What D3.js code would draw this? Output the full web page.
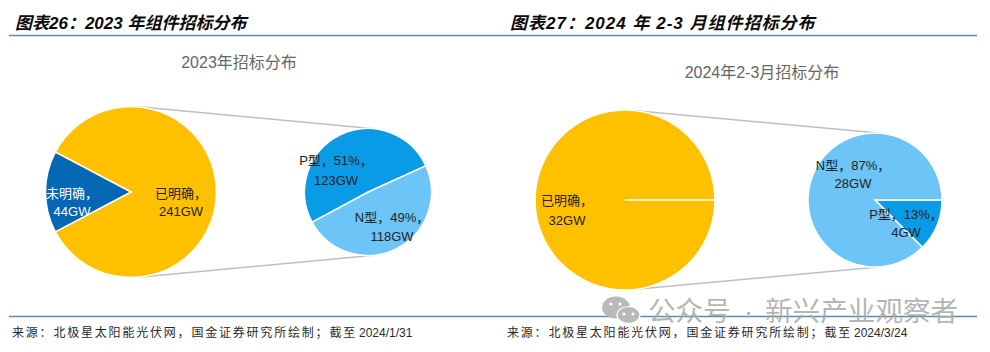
<!DOCTYPE html>
<html>
<head>
<meta charset="utf-8">
<script src="https://cdn.jsdelivr.net/npm/d3@7"></script>
<style>
    html, body { margin: 0; padding: 0; background: #fff; }
    svg { display: block; }
    text { font-family: "Liberation Sans", "Noto Sans CJK SC", sans-serif; }
    .fig-title { font-size: 17px; font-weight: 700; font-style: italic; fill: #0a0a0a; }
    .chart-title { font-size: 16px; fill: #666; }
    .source { font-size: 12px; fill: #2a2a2a; letter-spacing: 1.8px; }
    .source-date { font-size: 12px; fill: #2a2a2a; }
    .label { font-size: 13px; text-anchor: middle; }
</style>
</head>
<body>
<div id="chart"></div>
<script>
// Left chart, 2023
const mainCats2023 = ["已明确", "未明确"];
const mainVals2023 = [241, 44];
const subCats2023 = ["N型", "P型"];
const subVals2023 = [118, 123];
const subPct2023 = ["49%", "51%"];

// Right chart, 2024 Feb-Mar (the empty slice gives the white seam in the pie)
const mainCats2024 = ["已明确", "未明确"];
const mainVals2024 = [32, 0];
const subCats2024 = ["P型", "N型"];
const subVals2024 = [4, 28];
const subPct2024 = ["13%", "87%"];

const figTitles = ["图表26：2023 年组件招标分布", "图表27：2024 年 2-3 月组件招标分布"];
const chartTitles = ["2023年招标分布", "2024年2-3月招标分布"];
const sourceText = "来源：北极星太阳能光伏网，国金证券研究所绘制；截至";
const sourceDates = ["2024/1/31", "2024/3/24"];

const width = 990, height = 352;
const yellow = "#ffc000", darkBlue = "#0367b4", midBlue = "#0a9be6", lightBlue = "#6cc5f6";

const svg = d3.select("#chart").append("svg")
    .attr("width", width)
    .attr("height", height);

//Header and footer rules
[35.5, 316.5].forEach(y => {
    svg.append("line")
        .attr("x1", 9).attr("x2", 977)
        .attr("y1", y).attr("y2", y)
        .style("stroke", "#5f8ea3")
        .style("stroke-width", 1.4);
});

[15, 510].forEach((x, i) => {
    svg.append("text").attr("class", "fig-title")
        .attr("x", x).attr("y", 29)
        .style("letter-spacing", i === 1 ? "1px" : "0px")
        .text(figTitles[i]);
});

[[239, 68], [762, 78]].forEach((p, i) => {
    svg.append("text").attr("class", "chart-title")
        .attr("x", p[0]).attr("y", p[1])
        .attr("text-anchor", "middle")
        .text(chartTitles[i]);
});

[12, 507].forEach((x, i) => {
    const t = svg.append("text").attr("x", x).attr("y", 337);
    t.append("tspan").attr("class", "source").text(sourceText);
    t.append("tspan").attr("class", "source-date").attr("dx", 2).text(sourceDates[i]);
});

//Draws one pie from its values, colors by index
function drawPie(g, cx, cy, r, values, colors, startDeg) {
    const start = startDeg * Math.PI / 180;
    const pie = d3.pie().sort(null).startAngle(start).endAngle(start + 2 * Math.PI);
    const arc = d3.arc().innerRadius(0).outerRadius(r);
    g.append("g")
        .attr("transform", `translate(${cx},${cy})`)
        .selectAll("path")
        .data(pie(values))
        .join("path")
        .attr("d", arc)
        .style("fill", (d, i) => colors[i])
        .style("stroke", "#fff")
        .style("stroke-width", 1.5);
}

//Gray lines are the outer tangents between the two circles
function drawConnectors(g, a, b) {
    const sin = (a.r - b.r) / (b.x - a.x);
    const cos = Math.sqrt(1 - sin * sin);
    [-1, 1].forEach(side => {
        g.append("line")
            .attr("x1", a.x + a.r * sin)
            .attr("y1", a.y + side * a.r * cos)
            .attr("x2", b.x + b.r * sin)
            .attr("y2", b.y + side * b.r * cos)
            .style("stroke", "#bfbfbf")
            .style("stroke-width", 1.5);
    });
}

function drawLabel(g, x, y, line1, line2, color, dy) {
    const t = g.append("text").attr("class", "label").style("fill", color);
    t.append("tspan").attr("x", x).attr("y", y).text(line1);
    t.append("tspan").attr("x", x).attr("y", y + dy).text(line2);
}

// 2023 chart
const left = svg.append("g");
const leftMain = { x: 131, y: 192, r: 85.5 };
const leftSub = { x: 368, y: 192, r: 63.5 };
drawConnectors(left, leftMain, leftSub);
drawPie(left, leftMain.x, leftMain.y, leftMain.r, mainVals2023, [yellow, darkBlue], -62.2);
drawPie(left, leftSub.x, leftSub.y, leftSub.r, subVals2023, [lightBlue, midBlue], 65.5);

drawLabel(left, 181, 198, `${mainCats2023[0]}，`, `${mainVals2023[0]}GW`, "#222", 18);
drawLabel(left, 72, 198, `${mainCats2023[1]}，`, `${mainVals2023[1]}GW`, "#fff", 18);
drawLabel(left, 336, 165, `${subCats2023[1]}，${subPct2023[1]}，`, `${subVals2023[1]}GW`, "#222", 20);
drawLabel(left, 392, 222, `${subCats2023[0]}，${subPct2023[0]}，`, `${subVals2023[0]}GW`, "#222", 19);

// 2024 chart
const right = svg.append("g");
const rightMain = { x: 625, y: 200, r: 90 };
const rightSub = { x: 875, y: 200, r: 67 };
drawConnectors(right, rightMain, rightSub);
drawPie(right, rightMain.x, rightMain.y, rightMain.r, mainVals2024, [yellow, yellow], 90);
drawPie(right, rightSub.x, rightSub.y, rightSub.r, subVals2024, [midBlue, lightBlue], 90);

drawLabel(right, 567, 205, `${mainCats2024[0]}，`, `${mainVals2024[0]}GW`, "#222", 20);
drawLabel(right, 853, 170, `${subCats2024[1]}，${subPct2024[1]}，`, `${subVals2024[1]}GW`, "#222", 18);
drawLabel(right, 906, 219, `${subCats2024[0]}，${subPct2024[0]}，`, `${subVals2024[0]}GW`, "#222", 18);

//Watermark
const mark = svg.append("g");
mark.append("ellipse").attr("cx", 616).attr("cy", 307.5).attr("rx", 14).attr("ry", 11).style("fill", "#b9b9b9");
mark.append("ellipse").attr("cx", 628.5).attr("cy", 315).attr("rx", 11.5).attr("ry", 8.5).style("fill", "#b9b9b9").style("stroke", "#fff").style("stroke-width", 1.2);
[[611, 304], [620, 304], [624, 314], [633, 314]].forEach(p => {
    mark.append("circle").attr("cx", p[0]).attr("cy", p[1]).attr("r", 1.6).style("fill", "#fff");
});
const markText = mark.append("text")
    .attr("y", 321)
    .style("font-size", "27.6px")
    .style("fill", "#a8a8a8")
    .style("fill-opacity", 0.85);
markText.append("tspan").attr("x", 648).text("公众号");
markText.append("tspan").attr("x", 744).text("·");
markText.append("tspan").attr("x", 765).text("新兴产业观察者");
</script>
</body>
</html>
